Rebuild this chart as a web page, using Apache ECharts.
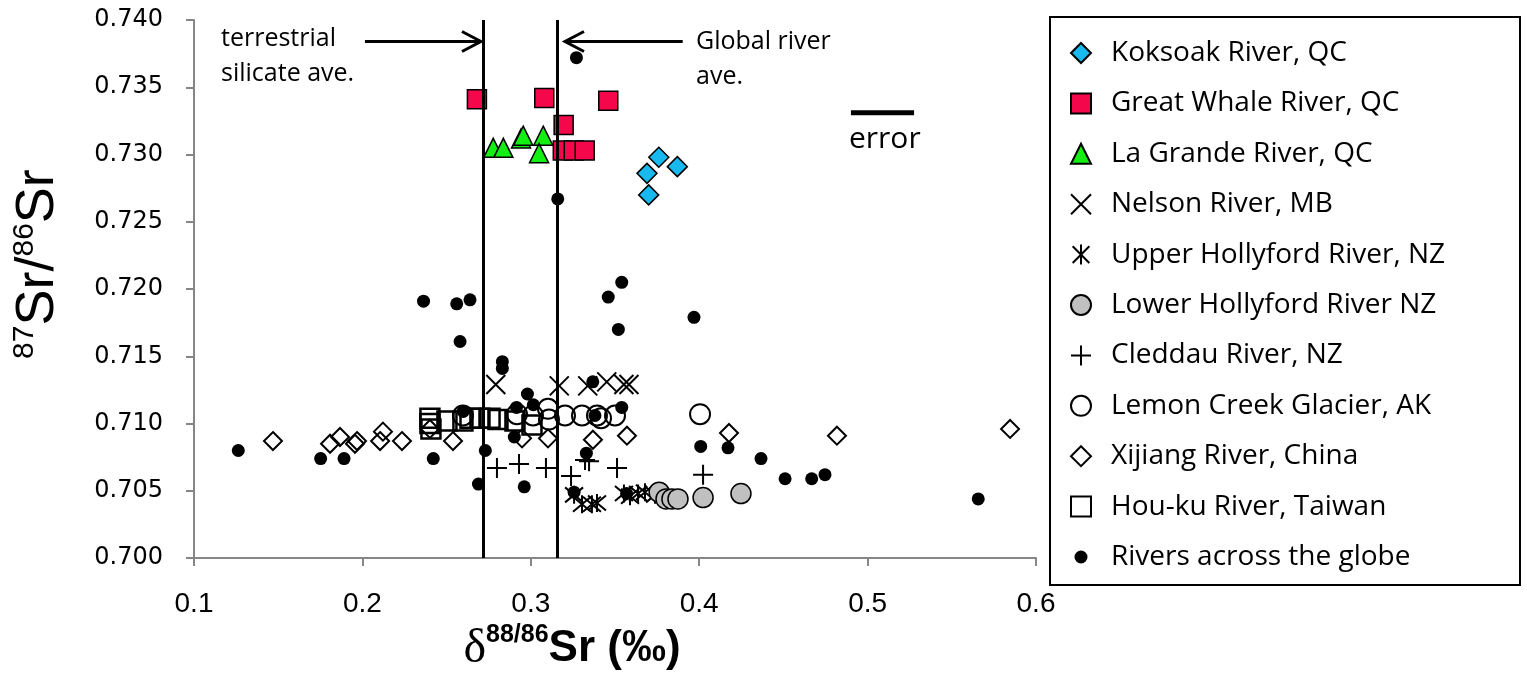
<!DOCTYPE html>
<html>
<head>
<meta charset="utf-8">
<script src="https://cdn.jsdelivr.net/npm/echarts@6/dist/echarts.min.js"></script>
<style>
  html, body { margin: 0; padding: 0; background: #fff; }
  #main { width: 1527px; height: 678px; }
</style>
</head>
<body>
<div id="main"></div>
<script>
// [delta88/86Sr, 87Sr/86Sr]
const koksoak = [[0.376, 0.7298], [0.387, 0.7291], [0.369, 0.7286], [0.370, 0.7270]];
const greatWhale = [[0.268, 0.7341], [0.308, 0.7342], [0.346, 0.7340], [0.3195, 0.7322],
  [0.319, 0.7303], [0.3255, 0.7303], [0.332, 0.7303]];
const laGrande = [[0.2777, 0.7305], [0.2837, 0.7305], [0.2942, 0.7312], [0.2955, 0.7314],
  [0.3074, 0.7314], [0.3049, 0.7301]];
const nelson = [[0.2792, 0.7129], [0.3169, 0.7128], [0.3338, 0.7128], [0.3451, 0.7131],
  [0.3553, 0.7129], [0.3583, 0.7129]];
const upperHollyford = [[0.3257, 0.7047], [0.3304, 0.7040], [0.3363, 0.7040], [0.3393, 0.7041],
  [0.3553, 0.7048], [0.3589, 0.7046], [0.3637, 0.7048], [0.3678, 0.7049], [0.3738, 0.7047]];
const lowerHollyford = [[0.3762, 0.7049], [0.3803, 0.7044], [0.3838, 0.7044], [0.3874, 0.7044],
  [0.4023, 0.7045], [0.4248, 0.7048]];
const cleddau = [[0.2799, 0.7067], [0.2930, 0.7070], [0.3090, 0.7067], [0.3239, 0.7061],
  [0.3322, 0.7073], [0.3346, 0.7072], [0.3512, 0.7067], [0.4023, 0.7062]];
const lemonCreek = [[0.2597, 0.7106], [0.2918, 0.7107], [0.3013, 0.7106], [0.3102, 0.7111],
  [0.3108, 0.7103], [0.3203, 0.7106], [0.3304, 0.7106], [0.3393, 0.7106], [0.3417, 0.7104],
  [0.3500, 0.7106], [0.4005, 0.7107]];
const xijiang = [[0.1469, 0.7087], [0.1808, 0.7085], [0.1867, 0.7090], [0.1956, 0.7085],
  [0.1968, 0.7087], [0.2105, 0.7087], [0.2122, 0.7094], [0.2235, 0.7087], [0.2401, 0.7096],
  [0.2538, 0.7087], [0.2948, 0.7089], [0.3102, 0.7089], [0.3369, 0.7088], [0.3571, 0.7091],
  [0.4177, 0.7093], [0.4818, 0.7091], [0.5846, 0.7096]];
const houku = [[0.2401, 0.7104], [0.2401, 0.7100], [0.2407, 0.7096], [0.2502, 0.7102],
  [0.2597, 0.7102], [0.2639, 0.7104], [0.2698, 0.7104], [0.2758, 0.7104], [0.2805, 0.7103],
  [0.2906, 0.7102], [0.3007, 0.7099]];
const globe = [[0.3271, 0.7372], [0.3160, 0.7267], [0.2363, 0.7191], [0.2560, 0.7189],
  [0.2639, 0.7192], [0.2580, 0.7161], [0.3460, 0.7194], [0.3540, 0.7205], [0.3520, 0.7170],
  [0.3969, 0.7179], [0.2831, 0.7146], [0.2831, 0.7141], [0.2980, 0.7122], [0.3015, 0.7114],
  [0.2915, 0.7112], [0.2599, 0.7109], [0.3368, 0.7131], [0.3540, 0.7112], [0.3381, 0.7106],
  [0.2902, 0.7090], [0.2730, 0.7080], [0.2421, 0.7074], [0.1263, 0.7080], [0.1752, 0.7074],
  [0.1891, 0.7074], [0.2689, 0.7055], [0.2961, 0.7053], [0.3330, 0.7078], [0.3257, 0.7049],
  [0.3569, 0.7048], [0.4009, 0.7083], [0.4171, 0.7082], [0.4367, 0.7074], [0.4510, 0.7059],
  [0.4668, 0.7059], [0.4747, 0.7062], [0.5657, 0.7044]];

// reference averages and annotation anchors
const refLines = [0.2716, 0.3156];
const arrowTerrestrial = [[0.2015, 0.7384], [0.2704, 0.7384]];
const arrowGlobal = [[0.3902, 0.7384], [0.3203, 0.7384]];
const errorBar = [[0.4901, 0.7331], [0.5276, 0.7331]];

const X_MARK = 'path://M0,0L10,10M10,0L0,10';
const STAR_MARK = 'path://M0,0L10,10M10,0L0,10M5,-1L5,11';
const PLUS_MARK = 'path://M5,0L5,10M0,5L10,5';
// small dot inside a 20x20 box, for the legend
const SMALL_DOT = 'path://M0,0L0.01,0ZM20,20L20.01,20ZM10,3.5A6.5,6.5,0,1,1,9.99,3.5Z';

function filled(name, data, symbol, size, color) {
  return {
    name: name, type: 'scatter', data: data, symbol: symbol, symbolSize: size,
    itemStyle: { color: color, borderColor: '#000', borderWidth: 1.5, opacity: 1 }
  };
}
function stroked(name, data, symbol, size, width) {
  return {
    name: name, type: 'scatter', data: data, symbol: symbol, symbolSize: size,
    itemStyle: { color: 'rgba(0,0,0,0)', borderColor: '#000', borderWidth: width, opacity: 1 }
  };
}

const names = ['Koksoak River, QC', 'Great Whale River, QC', 'La Grande River, QC', 'Nelson River, MB',
  'Upper Hollyford River, NZ', 'Lower Hollyford River NZ', 'Cleddau River, NZ',
  'Lemon Creek Glacier, AK', 'Xijiang River, China', 'Hou-ku River, Taiwan', 'Rivers across the globe'];

const chart = echarts.init(document.getElementById('main'));

let option = {
  animation: false,
  backgroundColor: '#fff',
  grid: { left: 194, right: 491, top: 20, bottom: 118 },
  legend: {
    data: names.map((n, i) => i === 10 ? { name: n, icon: SMALL_DOT } : n),
    orient: 'vertical',
    left: 1050,
    top: 17,
    padding: [22, 75, 14, 20],
    itemWidth: 20,
    itemHeight: 20,
    itemGap: 22.4,
    borderColor: '#000',
    borderWidth: 2,
    textStyle: { fontFamily: 'Open Sans', fontSize: 28, color: '#000', lineHeight: 28, padding: [0, 0, 0, 15] }
  },
  xAxis: {
    type: 'value', min: 0.1, max: 0.6, interval: 0.1,
    axisLine: { show: true, lineStyle: { color: '#868686', width: 2 } },
    axisTick: { show: true, length: 8, lineStyle: { color: '#868686', width: 2 } },
    splitLine: { show: false },
    axisLabel: {
      margin: 32, color: '#000', fontFamily: 'Liberation Sans', fontSize: 28,
      formatter: v => v.toFixed(1)
    },
    name: '{d|δ}{sup|88/86}{b|Sr (‰)}',
    nameLocation: 'middle',
    nameGap: 56,
    nameTextStyle: {
      padding: [0, 86, 0, 0],
      rich: {
        d: { fontFamily: 'Liberation Serif', fontSize: 48, lineHeight: 52, color: '#000' },
        sup: { fontFamily: 'Liberation Sans', fontWeight: 'bold', fontSize: 25, lineHeight: 30,
          verticalAlign: 'top', color: '#000' },
        b: { fontFamily: 'Liberation Sans', fontWeight: 'bold', fontSize: 44, lineHeight: 52, color: '#000' }
      }
    }
  },
  yAxis: {
    type: 'value', min: 0.700, max: 0.740, interval: 0.005,
    axisLine: { show: true, lineStyle: { color: '#868686', width: 2 } },
    axisTick: { show: true, length: 8, lineStyle: { color: '#868686', width: 2 } },
    splitLine: { show: false },
    axisLabel: {
      margin: 31, color: '#000', fontFamily: 'DejaVu Sans', fontSize: 24,
      formatter: v => v.toFixed(3)
    },
    name: '{sup|87}{big|Sr/}{sup|86}{big|Sr}',
    nameLocation: 'middle',
    nameRotate: 90,
    nameGap: 128,
    nameTextStyle: {
      padding: [0, 0, 0, 50],
      rich: {
        sup: { fontFamily: 'Liberation Sans', fontSize: 30, lineHeight: 36, verticalAlign: 'top', color: '#000' },
        big: { fontFamily: 'Liberation Sans', fontSize: 54, lineHeight: 56, color: '#000' }
      }
    }
  },
  series: [
    filled(names[0], koksoak, 'diamond', 20, '#17b9ee'),
    filled(names[1], greatWhale, 'rect', 19, '#f5074c'),
    filled(names[2], laGrande, 'triangle', 19, '#13ee13'),
    stroked(names[3], nelson, X_MARK, 19, 2),
    stroked(names[4], upperHollyford, STAR_MARK, 18, 2),
    filled(names[5], lowerHollyford, 'circle', 20, '#c0c0c0'),
    stroked(names[6], cleddau, PLUS_MARK, 20, 2),
    stroked(names[7], lemonCreek, 'circle', 20, 2),
    stroked(names[8], xijiang, 'diamond', 18, 2),
    stroked(names[9], houku, 'rect', 19, 2.5),
    {
      name: names[10], type: 'scatter', data: globe, symbol: 'circle', symbolSize: 13,
      itemStyle: { color: '#000', opacity: 1 }
    },
    {
      name: 'averages', type: 'scatter', data: [], z: 10,
      markLine: {
        silent: true, symbol: 'none', animation: false, precision: 4,
        label: { show: false },
        lineStyle: { color: '#000', width: 3, type: 'solid' },
        data: refLines.map(v => ({ xAxis: v }))
      }
    }
  ]
};

chart.setOption(option);

// annotations: arrows, texts, error bar
const px = p => chart.convertToPixel({ gridIndex: 0 }, p);
function arrow(pair) {
  const a = px(pair[0]);
  const b = px(pair[1]);
  const dir = b[0] > a[0] ? 1 : -1;
  return [
    { type: 'line', shape: { x1: a[0], y1: a[1], x2: b[0], y2: b[1] },
      style: { stroke: '#000', lineWidth: 3 }, z: 20 },
    { type: 'polyline',
      shape: { points: [[b[0] - dir * 19, b[1] - 10], [b[0], b[1]], [b[0] - dir * 19, b[1] + 10]] },
      style: { stroke: '#000', lineWidth: 3, fill: null }, z: 20 }
  ];
}
const e0 = px(errorBar[0]);
const e1 = px(errorBar[1]);
const textStyle = { fill: '#000', fontFamily: 'Open Sans', fontSize: 25, lineHeight: 35 };

chart.setOption({
  graphic: [].concat(
    arrow(arrowTerrestrial),
    arrow(arrowGlobal),
    [
      { type: 'line', shape: { x1: e0[0], y1: e0[1], x2: e1[0], y2: e1[1] },
        style: { stroke: '#000', lineWidth: 5 }, z: 20 },
      { type: 'text', left: 849, top: 122,
        style: Object.assign({}, textStyle, { text: 'error', fontSize: 30 }) },
      { type: 'text', left: 221, top: 21,
        style: Object.assign({}, textStyle, { text: 'terrestrial\nsilicate ave.' }) },
      { type: 'text', left: 696, top: 24,
        style: Object.assign({}, textStyle, { text: 'Global river\nave.' }) }
    ]
  )
});
</script>
</body>
</html>
